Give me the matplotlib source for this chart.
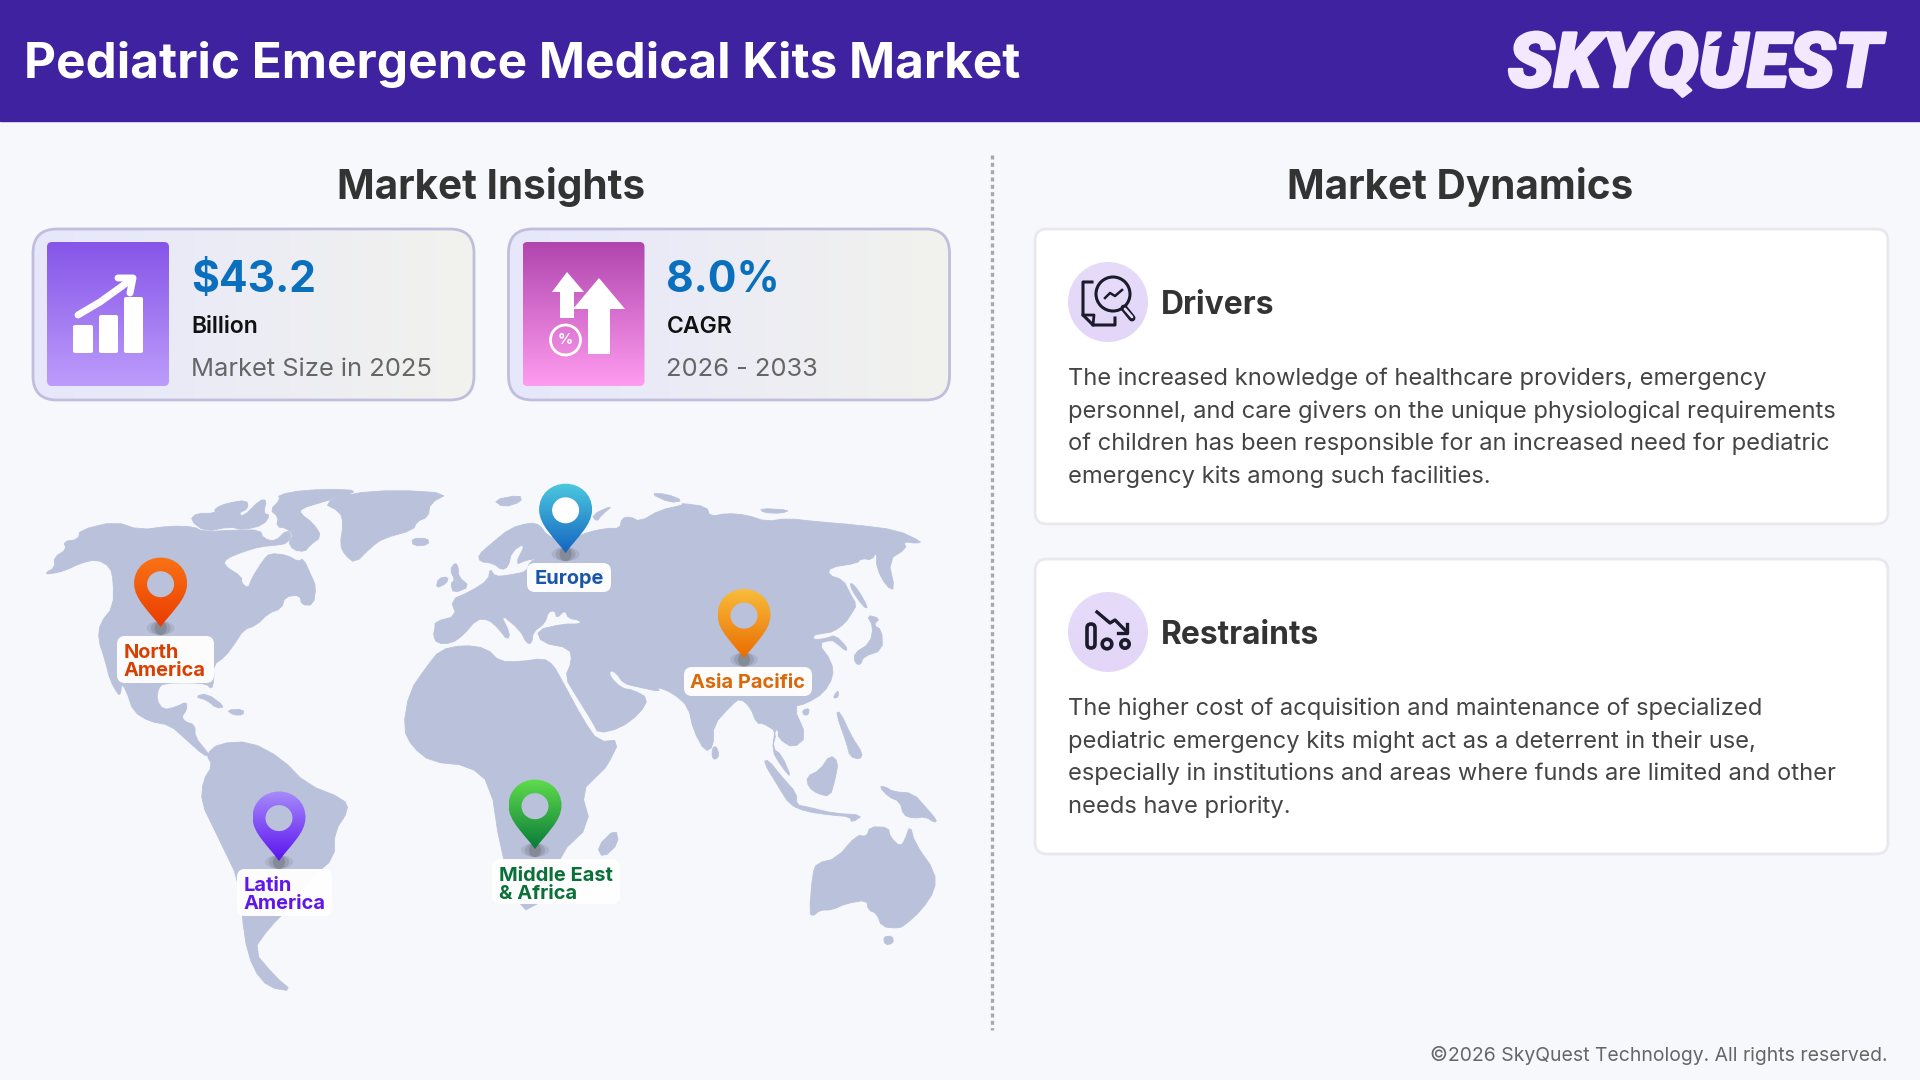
import numpy as np
import matplotlib
matplotlib.use("Agg")
import matplotlib.pyplot as plt
import matplotlib.patheffects as pe
from matplotlib.patches import FancyBboxPatch, Polygon, Circle, Ellipse, PathPatch
from matplotlib.path import Path
from matplotlib.colors import LinearSegmentedColormap

plt.rcParams['font.family'] = ['Inter', 'DejaVu Sans']

# texts
title = "Pediatric Emergence Medical Kits Market"
logo = "SKYQUEST"
footer = "©2026 SkyQuest Technology. All rights reserved."
kpi_values = ["$43.2", "8.0%"]
kpi_units = ["Billion", "CAGR"]
kpi_notes = ["Market Size in 2025", "2026 - 2033"]
drivers_lines = ["The increased knowledge of healthcare providers, emergency",
                 "personnel, and care givers on the unique physiological requirements",
                 "of children has been responsible for an increased need for pediatric",
                 "emergency kits among such facilities."]
restraints_lines = ["The higher cost of acquisition and maintenance of specialized",
                    "pediatric emergency kits might act as a deterrent in their use,",
                    "especially in institutions and areas where funds are limited and other",
                    "needs have priority."]

# pins: name lines, tip x, top y, gradient colours, text colour
regions = [["North", "America"], ["Europe"], ["Asia Pacific"], ["Latin", "America"], ["Middle East", "& Africa"]]
pin_x = [160.6, 565.6, 744, 279, 535]
pin_top = [557.6, 483.7, 589, 791.5, 779.6]
pin_c1 = ['#F97316', '#4CC9DF', '#F9BE3C', '#A78BFA', '#5FDD4B']
pin_c2 = ['#EA3C00', '#1565C0', '#EA6C00', '#5B13F0', '#0A7A3A']
label_col = ['#D93F00', '#1A56A8', '#D9690B', '#5F17EA', '#0A7038']
label_box = [(117, 636, 214, 683), (527, 563, 611, 592), (684, 667, 812, 696), (237, 869, 332, 916), (492, 859, 620, 904)]


def crop_a(p): return [(30 + x/3, 480 + y/3) for x, y in p]
def crop_b(p): return [(420 + x/3, 480 + y/3) for x, y in p]
def crop_c(p): return [(650 + x/3, 480 + y/3) for x, y in p]
def crop_d(p): return [(650 + x/3, 680 + y/3) for x, y in p]
def crop_w(p): return [(x/1.6, 440 + y/2.703) for x, y in p]


north_america = crop_a([(45,280),(75,262),(72,232),(110,208),(100,185),(145,178),(150,150),(255,125),(330,150),(420,138),(490,140),(520,155),(620,150),(690,150),(700,175),(735,185),(770,150),(785,165),(770,190),(745,195),(690,200),(640,215),(590,235),(580,255),(635,290),(635,310),(655,325),(665,295),(700,240),(720,220),(770,225),(805,245),(820,235),(845,290),(858,320),(850,375),(815,375),(810,345),(765,350),(755,385),(715,400),(680,435),(640,450),(615,490),(585,530),(550,555),(552,600),(545,628),(530,612),(480,608),(400,610),(385,625),(380,660),(400,690),(440,680),(470,665),(470,690),(455,710),(465,725),(495,735),(495,770),(530,815),(545,830),(520,825),(470,780),(420,735),(360,725),(310,695),(290,635),(275,610),(272,640),(265,645),(240,600),(225,540),(205,480),(210,430),(250,380),(250,300),(240,260),(200,238),(150,250),(105,272),(60,282)])
south_america = crop_w([(330,850),(350,820),(400,815),(450,860),(490,930),(550,970),(558,1000),(535,1060),(535,1130),(500,1180),(465,1260),(430,1320),(405,1380),(440,1450),(468,1490),(430,1480),(405,1430),(390,1340),(385,1200),(345,1060),(322,980),(325,920),(340,880)])
eurasia = (
    crop_b([(45,445),(45,425),(110,408),(92,360),(150,335),(205,300),(210,265),(225,290),(270,285),(320,275),(330,245),(355,235),(320,240),(285,255),(318,187),(275,215),(265,260),(245,270),(220,250),(180,245),(175,225),(215,190),(270,145),(330,128),(360,135),(380,165),(425,185),(470,170),(510,155),(560,145),(600,145),(605,115),(630,110),(660,125),(720,90),(790,75)])
    + crop_c([(95,70),(170,80),(180,110),(230,100),(290,105),(350,125),(410,115),(500,125),(620,135),(740,150),(815,185),(800,190),(760,185),(770,205),(715,240),(735,330),(710,320),(680,265),(680,215),(665,240),(635,235),(620,250),(540,262),(535,285),(580,300),(600,340),(620,375),(605,400),(585,430),(550,455),(520,460),(490,465),(490,480),(530,475),(555,465),(590,500),(590,515),(560,490),(545,480),(505,490),(545,545),(550,590)])
    + crop_d([(520,40),(470,70),(430,80),(470,170),(430,205),(385,175),(385,150),(375,150),(368,205),(395,225),(425,295),(395,260),(365,210),(380,155),(340,130),(320,130),(300,80),(270,55),(245,75),(190,135),(190,200),(165,215),(130,150),(115,80),(70,40),(20,20)])
    + crop_b([(720,635),(650,620),(610,610),(590,580),(570,570),(570,590),(605,625),(640,630),(685,655),(660,700),(600,745),(535,760),(520,730),(470,650),(435,592),(455,545),(450,505),(365,488),(350,450),(430,432),(482,432),(478,420),(445,415),(435,390),(410,415),(405,392),(385,395),(375,430),(340,455),(335,490),(320,490),(300,450),(240,400),(270,460),(262,480),(235,445),(205,418),(170,418),(130,465),(95,490),(50,490),(40,465)])
)
africa = (
    crop_b([(20,560),(60,510),(130,495),(200,505),(240,545),(300,545),(370,535),(400,555),(425,600),(490,720),(535,785),(600,780),(560,860)])
    + crop_w([(960,900),(930,950),(945,1040),(895,1120),(875,1240),(830,1280),(800,1100),(785,930),(750,880),(690,870),(660,830),(645,780),(655,680)])
)
islands = [
    crop_a([(480,120),(500,100),(555,100),(555,85),(590,70),(650,60),(655,85),(625,100),(640,110),(690,60),(710,60),(700,100),(720,105),(700,135),(640,150),(600,140),(525,155)]),
    crop_a([(720,90),(750,60),(745,45),(820,30),(960,28),(975,38),(880,65),(815,85),(810,100),(850,130),(875,170),(840,195),(825,215),(790,210),(775,185),(790,165),(770,145),(740,140),(745,110)]),
    crop_a([(880,70),(960,40),(1100,30),(1255,40),(1200,70),(1195,110),(1160,125),(1150,150),(1060,175),(1025,200),(975,250),(945,225),(930,195),(940,130),(930,95)]),
    crop_a([(1145,175),(1195,175),(1195,195),(1150,198)]),
    crop_a([(495,650),(530,640),(585,680),(560,685),(530,660)]),
    crop_a([(590,690),(640,688),(640,705),(610,705)]),
    crop_a([(1260,270),(1275,248),(1285,260),(1285,290),(1320,320),(1270,340),(1262,310),(1275,300)]),
    crop_a([(1218,325),(1225,295),(1255,290),(1250,310)]),
    crop_b([(220,60),(300,45),(305,65),(250,82)]),
    crop_b([(515,105),(580,75),(545,105),(530,125)]),
    crop_c([(0,40),(50,42),(100,62),(60,68)]),
    crop_c([(330,85),(420,90),(395,100),(340,98)]),
    crop_c([(600,305),(625,330),(655,385),(640,380),(605,330)]),
    crop_c([(650,405),(690,415),(670,435),(695,450),(698,510),(640,530),(632,555),(615,550),(612,520),(660,490),(670,440)]),
    crop_c([(550,650),(565,630),(565,650),(555,655)]),
    crop_d([(458,90),(478,85),(475,105),(460,105)]),
    crop_d([(558,100),(570,95),(605,170),(638,220),(630,238),(600,230),(590,190)]),
    crop_d([(470,290),(510,270),(540,225),(565,245),(555,300),(540,350),(500,340),(475,320)]),
    crop_d([(340,245),(355,240),(395,290),(440,340),(440,375),(470,380),(550,400),(640,405),(605,428),(600,410),(540,405),(470,395),(420,375),(385,320)]),
    crop_d([(688,320),(705,320),(730,335),(790,340),(830,385),(860,420),(855,428),(825,410),(790,415),(760,405),(750,365),(715,350)]),
    crop_d([(478,700),(488,580),(500,550),(560,535),(620,465),(650,470),(660,440),(715,442),(720,470),(750,500),(765,480),(780,435),(795,490),(855,575),(855,630),(815,690),(765,735),(745,745),(695,740),(680,700),(655,690),(650,660),(590,670),(545,690),(510,690),(490,708)]),
    crop_d([(700,770),(728,768),(730,790),(705,795)]),
    crop_d([(187,205),(198,198),(208,225),(195,240),(186,230)]),
    crop_w([(985,1050),(990,1090),(965,1130),(955,1100)]),
]
land = [north_america, south_america, eurasia, africa] + islands

BG = '#F7F8FC'
fig = plt.figure(figsize=(19.2, 10.8), dpi=100, facecolor=BG)
ax = fig.add_axes([0, 0, 1, 1])


def reset():
    ax.set_xlim(0, 1920)
    ax.set_ylim(1080, 0)
    ax.axis('off')


def smooth(pts, n=2):
    p = np.array(pts, float)
    for _ in range(n):
        q = np.roll(p, -1, axis=0)
        p = np.stack([p*.75 + q*.25, p*.25 + q*.75], axis=1).reshape(-1, 2)
    return p


def grad(x0, y0, x1, y1, c1, c2, clip, horizontal=False, z=2):
    cm = LinearSegmentedColormap.from_list('g', [c1, c2])
    g = np.linspace(0, 1, 256)
    g = g.reshape(1, -1) if horizontal else g.reshape(-1, 1)
    im = ax.imshow(g, cmap=cm, extent=(x0, x1, y1, y0), aspect='auto', zorder=z, interpolation='bilinear')
    im.set_clip_path(clip)


def rbox(x0, y0, x1, y1, r, **kw):
    p = FancyBboxPatch((x0+r, y0+r), x1-x0-2*r, y1-y0-2*r, boxstyle=f"round,pad={r},rounding_size={r}", **kw)
    ax.add_patch(p)
    return p


def txt(x, y, s, px, color, weight='normal', ha='left', **kw):
    return ax.text(x, y+4, s, fontsize=px*0.72, color=color, fontweight=weight, ha=ha, va='center', **kw)


reset()
# header
ax.add_patch(plt.Rectangle((0, 0), 1920, 121, color='#3F22A0', zorder=1))
txt(24, 60.5, title, 49.5, 'white', 'bold', zorder=5)
t = txt(1508, 62, logo, 76, '#F3E8FF', 'black', style='italic', zorder=5,
        family=['Roboto', 'DejaVu Sans'])
t.set_path_effects([pe.withStroke(linewidth=2, foreground='#F3E8FF')])
ax.add_patch(Polygon([(1725, 34), (1739, 46), (1731, 46), (1730, 62), (1720, 62), (1721, 46), (1708, 46)],
                     fc='#3F22A0', ec='none', zorder=6))

# section headers + divider
txt(491, 183, "Market Insights", 40.5, '#333333', 'bold', ha='center', zorder=5)
txt(1460, 183, "Market Dynamics", 40.5, '#333333', 'bold', ha='center', zorder=5)
ax.plot([992, 992], [155, 1030], color='#A9A9A9', lw=2.4, ls=(0, (1.2, 1.0)), zorder=1)

# kpi cards
card_x = [33, 508.5]
tile_c1 = ['#8655E8', '#B045AE']
tile_c2 = ['#BD9CFB', '#FF9CF0']
for i in range(2):
    x0 = card_x[i]
    p = rbox(x0, 229, x0+441, 400, 24, fc='none', ec='#C0BEDC', lw=2, zorder=3)
    back = rbox(x0, 229, x0+441, 400, 24, fc='none', ec='none', zorder=1)
    grad(x0, 229, x0+441, 400, '#E6E7FB', '#F2F2EE', back, horizontal=True, z=2)
    tx = x0+14
    tile = rbox(tx, 242, tx+122, 386, 5, fc='none', ec='none', zorder=1)
    grad(tx, 242, tx+122, 386, tile_c1[i], tile_c2[i], tile, z=3)
    txt(x0+158, 276, kpi_values[i], 42.5, '#0A70BE', 'bold', zorder=5)
    txt(x0+158, 323, kpi_units[i], 23, '#111111', 'semibold', zorder=5)
    txt(x0+158, 366, kpi_notes[i], 25.5, '#666666', zorder=5)

# icon 1
for x0, x1, y0 in [(73, 93, 325), (99, 118, 315), (124, 143, 297)]:
    rbox(x0, y0, x1, 353, 2, fc='white', ec='none', zorder=6)
ax.plot([78, 100, 132], [315, 302, 279], color='white', lw=5, solid_capstyle='round', zorder=6)
ax.plot([118, 133, 130], [278, 278, 293], color='white', lw=5, solid_capstyle='round', solid_joinstyle='round', zorder=6)

# icon 2
ax.add_patch(Polygon([(567, 272), (584, 292), (574, 292), (574, 318), (560, 318), (560, 292), (552, 292)], fc='white', ec='none', zorder=6))
ax.add_patch(Polygon([(599, 278), (625, 309), (610, 309), (610, 354), (588, 354), (588, 309), (573, 309)], fc='white', ec='none', zorder=7))
ax.add_patch(Circle((565.5, 340), 15, fc='none', ec='white', lw=2, zorder=6))
txt(565.5, 336, "%", 15, 'white', 'bold', ha='center', zorder=6)

# dynamics cards
for y0, head, lines in [(229, "Drivers", drivers_lines), (559, "Restraints", restraints_lines)]:
    rbox(1035, y0, 1888, y0+295, 12, fc='white', ec='#E8E8EE', lw=2, zorder=2)
    c = Circle((1108, y0+73), 40, fc='none', ec='none', zorder=1)
    ax.add_patch(c)
    grad(1068, y0+33, 1148, y0+113, '#E6DCFA', '#E3D6F8', c, z=3)
    txt(1161, y0+73, head, 31.8, '#333333', 'bold', zorder=5)
    for k, ln in enumerate(lines):
        txt(1068, y0+146+k*32.6, ln, 23.7, '#444444', zorder=5)

# drivers icon
ink = '#1B1B2B'
ax.plot([1092, 1083, 1083, 1093, 1115, 1115], [282, 282, 315, 325, 325, 318], color=ink, lw=2.2, zorder=6)
ax.plot([1083, 1094, 1093], [315, 315, 325], color=ink, lw=2, zorder=6)
ax.add_patch(Circle((1113, 294), 17, fc='none', ec=ink, lw=2.2, zorder=6))
ax.plot([1105, 1110, 1115, 1122], [298, 293, 296, 290], color=ink, lw=1.8, zorder=6)
ax.plot([1124, 1132], [308, 318], color=ink, lw=5, solid_capstyle='round', zorder=6)
ax.plot([1125, 1132], [309, 317], color='#E6DCFA', lw=2, solid_capstyle='round', zorder=7)

# restraints icon
rbox(1087, 624, 1095, 648, 4, fc='none', ec=ink, lw=2.6, zorder=6)
ax.add_patch(Circle((1107, 644), 4.8, fc='none', ec=ink, lw=2.6, zorder=6))
ax.add_patch(Circle((1125, 644), 4.2, fc='none', ec=ink, lw=2.6, zorder=6))
ax.plot([1097, 1110, 1115, 1127], [612, 623, 620, 632], color=ink, lw=2.4, zorder=6)
ax.plot([1118, 1127, 1127], [633, 633, 624], color=ink, lw=2.4, zorder=6)

# world map
LAND = '#BAC1DB'
for poly in land:
    ax.add_patch(Polygon(smooth(poly, 1), fc=LAND, ec=LAND, lw=0.6, zorder=1))

# pins
for i in range(5):
    x, top = pin_x[i], pin_top[i]
    h, r = 69.5, 26.5
    for a, w in [(0.10, 28), (0.14, 20), (0.2, 12)]:
        ax.add_patch(Ellipse((x, top+h+1), w, 14, fc='#333333', ec='none', alpha=a, zorder=3))
    verts = [(x, top+h), (x-10, top+55), (x-r, top+42), (x-r, top+26), (x-r, top+10), (x-14, top), (x, top),
             (x+14, top), (x+r, top+10), (x+r, top+26), (x+r, top+42), (x+10, top+55), (x, top+h)]
    codes = [Path.MOVETO] + [Path.CURVE4]*12
    pth = PathPatch(Path(verts, codes), fc='none', ec='none', zorder=1)
    ax.add_patch(pth)
    grad(x-r, top, x+r, top+h, pin_c1[i], pin_c2[i], pth, z=4)
    ax.add_patch(Ellipse((x, top+26.6), 27, 26, fc='white' if i == 1 else LAND, ec='none', zorder=5))
    bx0, by0, bx1, by1 = label_box[i]
    rbox(bx0, by0, bx1, by1, 8, fc='white', ec='none', zorder=6, alpha=.96)
    names = regions[i]
    if len(names) == 1:
        txt((bx0+bx1)/2, (by0+by1)/2-(3 if i == 1 else 2), names[0], 20, label_col[i], 'bold', ha='center', zorder=7)
    else:
        for k, nm in enumerate(names):
            txt(bx0+7, by0+13+k*18, nm, 20, label_col[i], 'bold', zorder=7)

txt(1888, 1051.5, footer, 19.4, '#666666', ha='right', zorder=5)

reset()
fig.savefig('out.png', dpi=100, facecolor=BG)
